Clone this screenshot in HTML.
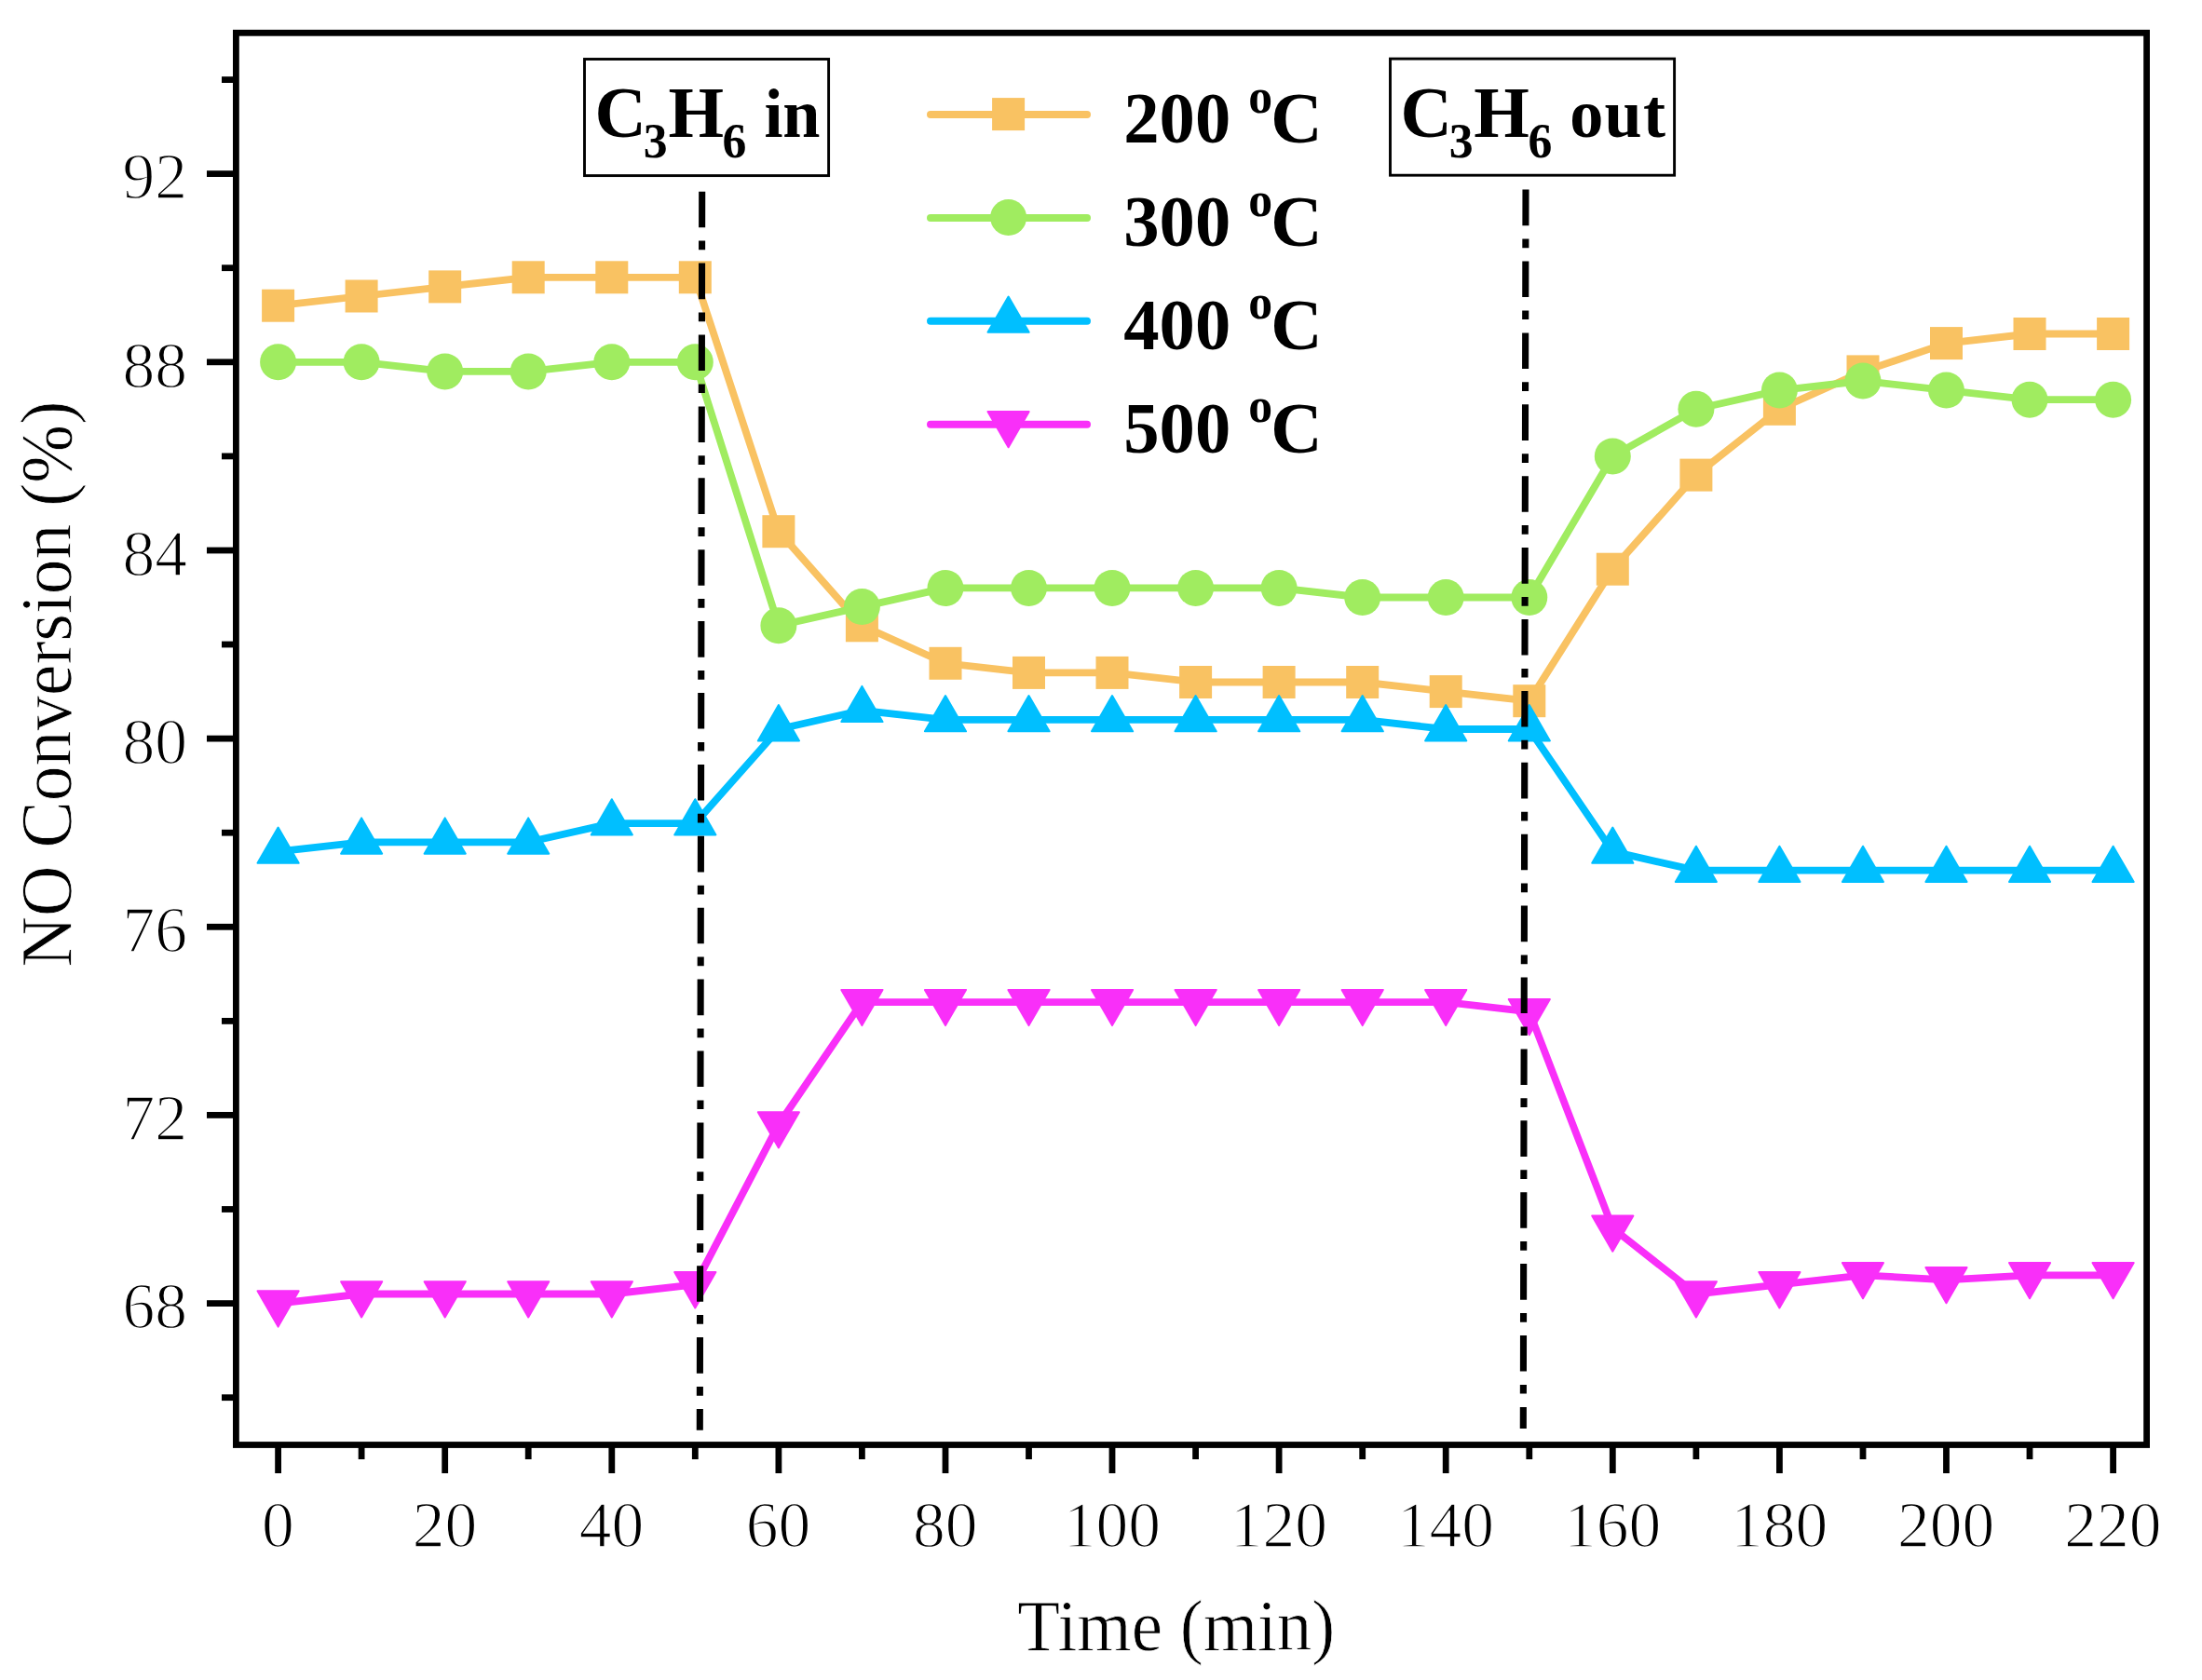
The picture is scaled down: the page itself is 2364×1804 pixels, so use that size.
<!DOCTYPE html>
<html lang="en">
<head>
<meta charset="utf-8">
<title>NO Conversion vs Time</title>
<style>
html,body{margin:0;padding:0;background:#fff;}
body{width:2364px;height:1804px;overflow:hidden;}
svg{display:block;}
.rg{font-family:"Liberation Serif","Noto Serif CJK SC",serif;font-size:77.8px;fill:#000;stroke:#fff;stroke-width:0.8px;paint-order:fill stroke;}
.bd{font-family:"Liberation Serif","Noto Serif CJK SC",serif;font-size:78.6px;font-weight:bold;fill:#000;}
.sm{font-size:53px;}
.wd{font-size:74px;}
.tk{font-family:"Liberation Serif","Noto Serif CJK SC",serif;font-size:69.5px;fill:#000;stroke:#fff;stroke-width:1.45px;paint-order:fill stroke;}
</style>
</head>
<body>
<svg width="2364" height="1804" viewBox="0 0 2364 1804">
<rect x="0" y="0" width="2364" height="1804" fill="#fff"/>
<g id="s200">
<polyline points="298.6,328.2 388.1,318 477.7,307.9 567.2,297.8 656.8,297.8 746.3,297.8 835.9,570.7 925.4,671.8 1015,712.3 1104.5,722.4 1194,722.4 1283.6,732.5 1373.1,732.5 1462.7,732.5 1552.2,742.6 1641.8,752.7 1731.3,611.2 1820.9,510.1 1910.4,439.3 2000,398.9 2089.5,368.6 2179,358.5 2268.6,358.5" fill="none" stroke="#F9C262" stroke-width="7.8" stroke-linejoin="round"/>
<rect x="281.1" y="310.7" width="35" height="35" fill="#F9C262"/>
<rect x="370.6" y="300.5" width="35" height="35" fill="#F9C262"/>
<rect x="460.2" y="290.4" width="35" height="35" fill="#F9C262"/>
<rect x="549.7" y="280.3" width="35" height="35" fill="#F9C262"/>
<rect x="639.3" y="280.3" width="35" height="35" fill="#F9C262"/>
<rect x="728.8" y="280.3" width="35" height="35" fill="#F9C262"/>
<rect x="818.4" y="553.2" width="35" height="35" fill="#F9C262"/>
<rect x="907.9" y="654.3" width="35" height="35" fill="#F9C262"/>
<rect x="997.5" y="694.8" width="35" height="35" fill="#F9C262"/>
<rect x="1087" y="704.9" width="35" height="35" fill="#F9C262"/>
<rect x="1176.5" y="704.9" width="35" height="35" fill="#F9C262"/>
<rect x="1266.1" y="715" width="35" height="35" fill="#F9C262"/>
<rect x="1355.6" y="715" width="35" height="35" fill="#F9C262"/>
<rect x="1445.2" y="715" width="35" height="35" fill="#F9C262"/>
<rect x="1534.7" y="725.1" width="35" height="35" fill="#F9C262"/>
<rect x="1624.3" y="735.2" width="35" height="35" fill="#F9C262"/>
<rect x="1713.8" y="593.7" width="35" height="35" fill="#F9C262"/>
<rect x="1803.4" y="492.6" width="35" height="35" fill="#F9C262"/>
<rect x="1892.9" y="421.8" width="35" height="35" fill="#F9C262"/>
<rect x="1982.5" y="381.4" width="35" height="35" fill="#F9C262"/>
<rect x="2072" y="351.1" width="35" height="35" fill="#F9C262"/>
<rect x="2161.5" y="341" width="35" height="35" fill="#F9C262"/>
<rect x="2251.1" y="341" width="35" height="35" fill="#F9C262"/>
</g>
<g id="s300">
<polyline points="298.6,388.8 388.1,388.8 477.7,398.9 567.2,398.9 656.8,388.8 746.3,388.8 835.9,671.8 925.4,651.6 1015,631.4 1104.5,631.4 1194,631.4 1283.6,631.4 1373.1,631.4 1462.7,641.5 1552.2,641.5 1641.8,641.5 1731.3,489.9 1820.9,439.3 1910.4,419.1 2000,409 2089.5,419.1 2179,429.2 2268.6,429.2" fill="none" stroke="#A0EC60" stroke-width="7.8" stroke-linejoin="round"/>
<circle cx="298.6" cy="388.8" r="19.5" fill="#A0EC60"/>
<circle cx="388.1" cy="388.8" r="19.5" fill="#A0EC60"/>
<circle cx="477.7" cy="398.9" r="19.5" fill="#A0EC60"/>
<circle cx="567.2" cy="398.9" r="19.5" fill="#A0EC60"/>
<circle cx="656.8" cy="388.8" r="19.5" fill="#A0EC60"/>
<circle cx="746.3" cy="388.8" r="19.5" fill="#A0EC60"/>
<circle cx="835.9" cy="671.8" r="19.5" fill="#A0EC60"/>
<circle cx="925.4" cy="651.6" r="19.5" fill="#A0EC60"/>
<circle cx="1015" cy="631.4" r="19.5" fill="#A0EC60"/>
<circle cx="1104.5" cy="631.4" r="19.5" fill="#A0EC60"/>
<circle cx="1194" cy="631.4" r="19.5" fill="#A0EC60"/>
<circle cx="1283.6" cy="631.4" r="19.5" fill="#A0EC60"/>
<circle cx="1373.1" cy="631.4" r="19.5" fill="#A0EC60"/>
<circle cx="1462.7" cy="641.5" r="19.5" fill="#A0EC60"/>
<circle cx="1552.2" cy="641.5" r="19.5" fill="#A0EC60"/>
<circle cx="1641.8" cy="641.5" r="19.5" fill="#A0EC60"/>
<circle cx="1731.3" cy="489.9" r="19.5" fill="#A0EC60"/>
<circle cx="1820.9" cy="439.3" r="19.5" fill="#A0EC60"/>
<circle cx="1910.4" cy="419.1" r="19.5" fill="#A0EC60"/>
<circle cx="2000" cy="409" r="19.5" fill="#A0EC60"/>
<circle cx="2089.5" cy="419.1" r="19.5" fill="#A0EC60"/>
<circle cx="2179" cy="429.2" r="19.5" fill="#A0EC60"/>
<circle cx="2268.6" cy="429.2" r="19.5" fill="#A0EC60"/>
</g>
<g id="s400">
<polyline points="298.6,914.4 388.1,904.3 477.7,904.3 567.2,904.3 656.8,884.1 746.3,884.1 835.9,783 925.4,762.8 1015,772.9 1104.5,772.9 1194,772.9 1283.6,772.9 1373.1,772.9 1462.7,772.9 1552.2,783 1641.8,783 1731.3,914.4 1820.9,934.6 1910.4,934.6 2000,934.6 2089.5,934.6 2179,934.6 2268.6,934.6" fill="none" stroke="#00BFFF" stroke-width="7.8" stroke-linejoin="round"/>
<polygon points="298.6,888.5 320.7,926.8 276.5,926.8" fill="#00BFFF" stroke="#00BFFF" stroke-width="2" stroke-linejoin="round"/>
<polygon points="388.1,878.4 410.2,916.7 366.1,916.7" fill="#00BFFF" stroke="#00BFFF" stroke-width="2" stroke-linejoin="round"/>
<polygon points="477.7,878.4 499.8,916.7 455.6,916.7" fill="#00BFFF" stroke="#00BFFF" stroke-width="2" stroke-linejoin="round"/>
<polygon points="567.2,878.4 589.3,916.7 545.2,916.7" fill="#00BFFF" stroke="#00BFFF" stroke-width="2" stroke-linejoin="round"/>
<polygon points="656.8,858.2 678.9,896.4 634.7,896.4" fill="#00BFFF" stroke="#00BFFF" stroke-width="2" stroke-linejoin="round"/>
<polygon points="746.3,858.2 768.4,896.4 724.2,896.4" fill="#00BFFF" stroke="#00BFFF" stroke-width="2" stroke-linejoin="round"/>
<polygon points="835.9,757.1 858,795.4 813.8,795.4" fill="#00BFFF" stroke="#00BFFF" stroke-width="2" stroke-linejoin="round"/>
<polygon points="925.4,736.9 947.5,775.1 903.3,775.1" fill="#00BFFF" stroke="#00BFFF" stroke-width="2" stroke-linejoin="round"/>
<polygon points="1015,747 1037,785.3 992.9,785.3" fill="#00BFFF" stroke="#00BFFF" stroke-width="2" stroke-linejoin="round"/>
<polygon points="1104.5,747 1126.6,785.3 1082.4,785.3" fill="#00BFFF" stroke="#00BFFF" stroke-width="2" stroke-linejoin="round"/>
<polygon points="1194,747 1216.1,785.3 1172,785.3" fill="#00BFFF" stroke="#00BFFF" stroke-width="2" stroke-linejoin="round"/>
<polygon points="1283.6,747 1305.7,785.3 1261.5,785.3" fill="#00BFFF" stroke="#00BFFF" stroke-width="2" stroke-linejoin="round"/>
<polygon points="1373.1,747 1395.2,785.3 1351.1,785.3" fill="#00BFFF" stroke="#00BFFF" stroke-width="2" stroke-linejoin="round"/>
<polygon points="1462.7,747 1484.8,785.3 1440.6,785.3" fill="#00BFFF" stroke="#00BFFF" stroke-width="2" stroke-linejoin="round"/>
<polygon points="1552.2,757.1 1574.3,795.4 1530.1,795.4" fill="#00BFFF" stroke="#00BFFF" stroke-width="2" stroke-linejoin="round"/>
<polygon points="1641.8,757.1 1663.9,795.4 1619.7,795.4" fill="#00BFFF" stroke="#00BFFF" stroke-width="2" stroke-linejoin="round"/>
<polygon points="1731.3,888.5 1753.4,926.8 1709.2,926.8" fill="#00BFFF" stroke="#00BFFF" stroke-width="2" stroke-linejoin="round"/>
<polygon points="1820.9,908.7 1842.9,947 1798.8,947" fill="#00BFFF" stroke="#00BFFF" stroke-width="2" stroke-linejoin="round"/>
<polygon points="1910.4,908.7 1932.5,947 1888.3,947" fill="#00BFFF" stroke="#00BFFF" stroke-width="2" stroke-linejoin="round"/>
<polygon points="2000,908.7 2022,947 1977.9,947" fill="#00BFFF" stroke="#00BFFF" stroke-width="2" stroke-linejoin="round"/>
<polygon points="2089.5,908.7 2111.6,947 2067.4,947" fill="#00BFFF" stroke="#00BFFF" stroke-width="2" stroke-linejoin="round"/>
<polygon points="2179,908.7 2201.1,947 2157,947" fill="#00BFFF" stroke="#00BFFF" stroke-width="2" stroke-linejoin="round"/>
<polygon points="2268.6,908.7 2290.7,947 2246.5,947" fill="#00BFFF" stroke="#00BFFF" stroke-width="2" stroke-linejoin="round"/>
</g>
<g id="s500">
<polyline points="298.6,1399.6 388.1,1389.5 477.7,1389.5 567.2,1389.5 656.8,1389.5 746.3,1379.4 835.9,1207.5 925.4,1076.1 1015,1076.1 1104.5,1076.1 1194,1076.1 1283.6,1076.1 1373.1,1076.1 1462.7,1076.1 1552.2,1076.1 1641.8,1086.3 1731.3,1318.7 1820.9,1389.5 1910.4,1379.4 2000,1369.3 2089.5,1374.3 2179,1369.3 2268.6,1369.3" fill="none" stroke="#F92FF9" stroke-width="7.8" stroke-linejoin="round"/>
<polygon points="298.6,1424.6 320.7,1386.3 276.5,1386.3" fill="#F92FF9" stroke="#F92FF9" stroke-width="2" stroke-linejoin="round"/>
<polygon points="388.1,1414.5 410.2,1376.2 366.1,1376.2" fill="#F92FF9" stroke="#F92FF9" stroke-width="2" stroke-linejoin="round"/>
<polygon points="477.7,1414.5 499.8,1376.2 455.6,1376.2" fill="#F92FF9" stroke="#F92FF9" stroke-width="2" stroke-linejoin="round"/>
<polygon points="567.2,1414.5 589.3,1376.2 545.2,1376.2" fill="#F92FF9" stroke="#F92FF9" stroke-width="2" stroke-linejoin="round"/>
<polygon points="656.8,1414.5 678.9,1376.2 634.7,1376.2" fill="#F92FF9" stroke="#F92FF9" stroke-width="2" stroke-linejoin="round"/>
<polygon points="746.3,1404.4 768.4,1366.1 724.2,1366.1" fill="#F92FF9" stroke="#F92FF9" stroke-width="2" stroke-linejoin="round"/>
<polygon points="835.9,1232.5 858,1194.3 813.8,1194.3" fill="#F92FF9" stroke="#F92FF9" stroke-width="2" stroke-linejoin="round"/>
<polygon points="925.4,1101.1 947.5,1062.9 903.3,1062.9" fill="#F92FF9" stroke="#F92FF9" stroke-width="2" stroke-linejoin="round"/>
<polygon points="1015,1101.1 1037,1062.9 992.9,1062.9" fill="#F92FF9" stroke="#F92FF9" stroke-width="2" stroke-linejoin="round"/>
<polygon points="1104.5,1101.1 1126.6,1062.9 1082.4,1062.9" fill="#F92FF9" stroke="#F92FF9" stroke-width="2" stroke-linejoin="round"/>
<polygon points="1194,1101.1 1216.1,1062.9 1172,1062.9" fill="#F92FF9" stroke="#F92FF9" stroke-width="2" stroke-linejoin="round"/>
<polygon points="1283.6,1101.1 1305.7,1062.9 1261.5,1062.9" fill="#F92FF9" stroke="#F92FF9" stroke-width="2" stroke-linejoin="round"/>
<polygon points="1373.1,1101.1 1395.2,1062.9 1351.1,1062.9" fill="#F92FF9" stroke="#F92FF9" stroke-width="2" stroke-linejoin="round"/>
<polygon points="1462.7,1101.1 1484.8,1062.9 1440.6,1062.9" fill="#F92FF9" stroke="#F92FF9" stroke-width="2" stroke-linejoin="round"/>
<polygon points="1552.2,1101.1 1574.3,1062.9 1530.1,1062.9" fill="#F92FF9" stroke="#F92FF9" stroke-width="2" stroke-linejoin="round"/>
<polygon points="1641.8,1111.3 1663.9,1073 1619.7,1073" fill="#F92FF9" stroke="#F92FF9" stroke-width="2" stroke-linejoin="round"/>
<polygon points="1731.3,1343.7 1753.4,1305.5 1709.2,1305.5" fill="#F92FF9" stroke="#F92FF9" stroke-width="2" stroke-linejoin="round"/>
<polygon points="1820.9,1414.5 1842.9,1376.2 1798.8,1376.2" fill="#F92FF9" stroke="#F92FF9" stroke-width="2" stroke-linejoin="round"/>
<polygon points="1910.4,1404.4 1932.5,1366.1 1888.3,1366.1" fill="#F92FF9" stroke="#F92FF9" stroke-width="2" stroke-linejoin="round"/>
<polygon points="2000,1394.3 2022,1356 1977.9,1356" fill="#F92FF9" stroke="#F92FF9" stroke-width="2" stroke-linejoin="round"/>
<polygon points="2089.5,1399.3 2111.6,1361.1 2067.4,1361.1" fill="#F92FF9" stroke="#F92FF9" stroke-width="2" stroke-linejoin="round"/>
<polygon points="2179,1394.3 2201.1,1356 2157,1356" fill="#F92FF9" stroke="#F92FF9" stroke-width="2" stroke-linejoin="round"/>
<polygon points="2268.6,1394.3 2290.7,1356 2246.5,1356" fill="#F92FF9" stroke="#F92FF9" stroke-width="2" stroke-linejoin="round"/>
</g>
<g id="vlines" stroke="#000" stroke-width="7.1" stroke-dasharray="38.6 14.3 9.7 14.3" fill="none">
<line x1="753.7" y1="205.7" x2="751.3" y2="1535.7"/>
<line x1="1638" y1="203.6" x2="1635.3" y2="1534"/>
</g>
<rect id="frame" x="253.4" y="35.3" width="2051.2" height="1516.2" fill="none" stroke="#000" stroke-width="6.8"/>
<g id="ticks" stroke="#000" stroke-width="6.8" fill="none">
<line x1="298.6" y1="1554" x2="298.6" y2="1582"/>
<line x1="388.1" y1="1554" x2="388.1" y2="1567"/>
<line x1="477.7" y1="1554" x2="477.7" y2="1582"/>
<line x1="567.2" y1="1554" x2="567.2" y2="1567"/>
<line x1="656.8" y1="1554" x2="656.8" y2="1582"/>
<line x1="746.3" y1="1554" x2="746.3" y2="1567"/>
<line x1="835.9" y1="1554" x2="835.9" y2="1582"/>
<line x1="925.4" y1="1554" x2="925.4" y2="1567"/>
<line x1="1015" y1="1554" x2="1015" y2="1582"/>
<line x1="1104.5" y1="1554" x2="1104.5" y2="1567"/>
<line x1="1194" y1="1554" x2="1194" y2="1582"/>
<line x1="1283.6" y1="1554" x2="1283.6" y2="1567"/>
<line x1="1373.1" y1="1554" x2="1373.1" y2="1582"/>
<line x1="1462.7" y1="1554" x2="1462.7" y2="1567"/>
<line x1="1552.2" y1="1554" x2="1552.2" y2="1582"/>
<line x1="1641.8" y1="1554" x2="1641.8" y2="1567"/>
<line x1="1731.3" y1="1554" x2="1731.3" y2="1582"/>
<line x1="1820.9" y1="1554" x2="1820.9" y2="1567"/>
<line x1="1910.4" y1="1554" x2="1910.4" y2="1582"/>
<line x1="2000" y1="1554" x2="2000" y2="1567"/>
<line x1="2089.5" y1="1554" x2="2089.5" y2="1582"/>
<line x1="2179" y1="1554" x2="2179" y2="1567"/>
<line x1="2268.6" y1="1554" x2="2268.6" y2="1582"/>
<line x1="251" y1="1500.7" x2="238" y2="1500.7"/>
<line x1="251" y1="1399.6" x2="222" y2="1399.6"/>
<line x1="251" y1="1298.5" x2="238" y2="1298.5"/>
<line x1="251" y1="1197.4" x2="222" y2="1197.4"/>
<line x1="251" y1="1096.4" x2="238" y2="1096.4"/>
<line x1="251" y1="995.3" x2="222" y2="995.3"/>
<line x1="251" y1="894.2" x2="238" y2="894.2"/>
<line x1="251" y1="793.1" x2="222" y2="793.1"/>
<line x1="251" y1="692" x2="238" y2="692"/>
<line x1="251" y1="591" x2="222" y2="591"/>
<line x1="251" y1="489.9" x2="238" y2="489.9"/>
<line x1="251" y1="388.8" x2="222" y2="388.8"/>
<line x1="251" y1="287.7" x2="238" y2="287.7"/>
<line x1="251" y1="186.6" x2="222" y2="186.6"/>
<line x1="251" y1="85.6" x2="238" y2="85.6"/>
</g>
<g id="xticklabels" class="tk" text-anchor="middle">
<text x="298.3" y="1660.8">0</text>
<text x="477.4" y="1660.8">20</text>
<text x="656.5" y="1660.8">40</text>
<text x="835.6" y="1660.8">60</text>
<text x="1014.7" y="1660.8">80</text>
<text x="1193.8" y="1660.8">100</text>
<text x="1372.8" y="1660.8">120</text>
<text x="1551.9" y="1660.8">140</text>
<text x="1731" y="1660.8">160</text>
<text x="1910.1" y="1660.8">180</text>
<text x="2089.2" y="1660.8">200</text>
<text x="2268.3" y="1660.8">220</text>
</g>
<g id="yticklabels" class="tk" text-anchor="end">
<text x="201" y="1426.4">68</text>
<text x="201" y="1224.2">72</text>
<text x="201" y="1022.1">76</text>
<text x="201" y="819.9">80</text>
<text x="201" y="617.8">84</text>
<text x="201" y="415.6">88</text>
<text x="201" y="213.4">92</text>
</g>
<text id="xtitle" class="rg" transform="translate(1092.3 1772) scale(0.964 1)">Time (min)</text>
<text id="ytitle" class="rg" transform="translate(76 1038.4) rotate(-90) scale(0.97 1)">NO Conversion (%)</text>
<g id="legend">
<line x1="999" y1="123" x2="1167" y2="123" stroke="#F9C262" stroke-width="8" stroke-linecap="round"/>
<rect x="1065.1" y="105.1" width="35" height="35" fill="#F9C262"/>
<text class="bd" transform="scale(0.975 1)"><tspan x="1237.23" y="153.1">200 </tspan><tspan class="sm" x="1374.67" y="120.7">o</tspan><tspan x="1399.18" y="153.1">C</tspan></text>
<line x1="999" y1="233.9" x2="1167" y2="233.9" stroke="#A0EC60" stroke-width="8" stroke-linecap="round"/>
<circle cx="1082.6" cy="233.5" r="19.5" fill="#A0EC60"/>
<text class="bd" transform="scale(0.975 1)"><tspan x="1237.23" y="264">300 </tspan><tspan class="sm" x="1374.67" y="231.6">o</tspan><tspan x="1399.18" y="264">C</tspan></text>
<line x1="999" y1="344.8" x2="1167" y2="344.8" stroke="#00BFFF" stroke-width="8" stroke-linecap="round"/>
<polygon points="1082.6,318.5 1104.7,356.8 1060.5,356.8" fill="#00BFFF" stroke="#00BFFF" stroke-width="2" stroke-linejoin="round"/>
<text class="bd" transform="scale(0.975 1)"><tspan x="1237.23" y="374.9">400 </tspan><tspan class="sm" x="1374.67" y="342.5">o</tspan><tspan x="1399.18" y="374.9">C</tspan></text>
<line x1="999" y1="455.7" x2="1167" y2="455.7" stroke="#F92FF9" stroke-width="8" stroke-linecap="round"/>
<polygon points="1082.6,480.3 1104.7,442.1 1060.5,442.1" fill="#F92FF9" stroke="#F92FF9" stroke-width="2" stroke-linejoin="round"/>
<text class="bd" transform="scale(0.975 1)"><tspan x="1237.23" y="485.8">500 </tspan><tspan class="sm" x="1374.67" y="453.4">o</tspan><tspan x="1399.18" y="485.8">C</tspan></text>
</g>
<g id="box-in"><rect x="627.5" y="63.5" width="262.1" height="125.1" fill="#fff" stroke="#000" stroke-width="2.9"/>
<text class="bd" transform="scale(0.975 1)"><tspan x="654.97" y="147">C</tspan><tspan class="sm" x="708.51" y="169.3">3</tspan><tspan x="735.79" y="147">H</tspan><tspan class="sm" x="795.49" y="169.3">6</tspan><tspan class="wd" x="823.24" y="147" letter-spacing="-0.2"> in</tspan></text></g>
<g id="box-out"><rect x="1492.5" y="63.1" width="305.1" height="125.1" fill="#fff" stroke="#000" stroke-width="2.9"/>
<text class="bd" transform="scale(0.975 1)"><tspan x="1542.05" y="147">C</tspan><tspan class="sm" x="1595.59" y="169.3">3</tspan><tspan x="1622.87" y="147">H</tspan><tspan class="sm" x="1682.56" y="169.3">6</tspan><tspan class="wd" x="1708.78" y="147" letter-spacing="1.25"> out</tspan></text></g>
</svg>
</body>
</html>
